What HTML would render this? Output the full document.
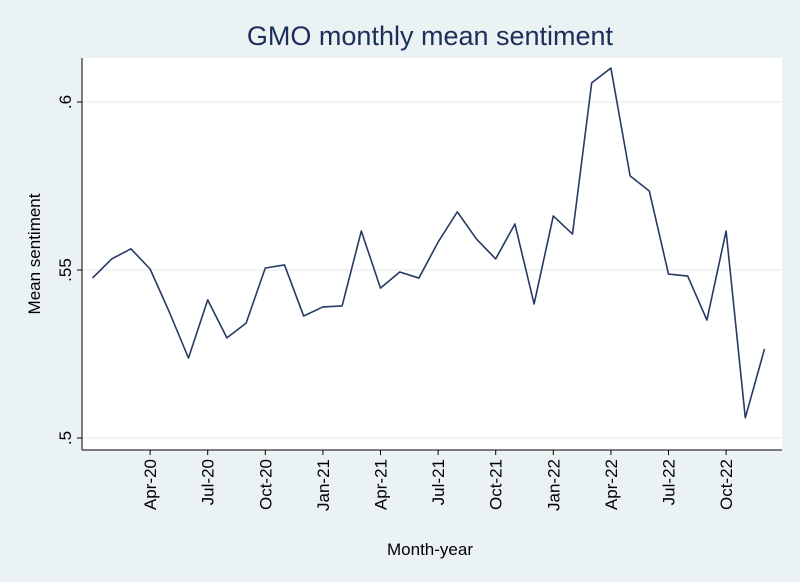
<!DOCTYPE html>
<html><head><meta charset="utf-8"><style>
html,body{margin:0;padding:0;background:#eaf2f3;}
svg{display:block;font-family:"Liberation Sans",Arial,sans-serif;}
</style></head><body>
<svg id="chart" width="800" height="582" viewBox="0 0 800 582">
<rect x="0" y="0" width="800" height="582" fill="#eaf2f3"/>
<rect x="82" y="58" width="700" height="392" fill="#ffffff"/>
<text x="430" y="45" text-anchor="middle" font-size="27" fill="#1c2e5a">GMO monthly mean sentiment</text>
<g id="grid"></g>
<g id="axes"></g>
<polyline id="series" fill="none" stroke="#263a63" stroke-width="1.6" stroke-linejoin="round"/>
<text transform="translate(40,254) rotate(-90)" text-anchor="middle" font-size="17" fill="#000">Mean sentiment</text>
<text x="430" y="555" text-anchor="middle" font-size="17" fill="#000">Month-year</text>
</svg>
<script>
const months = ["Jan-20","Feb-20","Mar-20","Apr-20","May-20","Jun-20","Jul-20","Aug-20","Sep-20","Oct-20","Nov-20","Dec-20","Jan-21","Feb-21","Mar-21","Apr-21","May-21","Jun-21","Jul-21","Aug-21","Sep-21","Oct-21","Nov-21","Dec-21","Jan-22","Feb-22","Mar-22","Apr-22","May-22","Jun-22","Jul-22","Aug-22","Sep-22","Oct-22","Nov-22","Dec-22"];
const sentiment = [0.5476,0.5533,0.5563,0.5503,0.5375,0.5238,0.5411,0.5298,0.5342,0.5506,0.5515,0.5363,0.5390,0.5393,0.5616,0.5446,0.5494,0.5476,0.5583,0.5673,0.5592,0.5533,0.5637,0.5399,0.5661,0.5607,0.6057,0.6101,0.5780,0.5735,0.5488,0.5482,0.5351,0.5616,0.5060,0.5265];
const yTicks = [0.5,0.55,0.6];
const yTickLabels = [".5",".55",".6"];
const xTickIdx = [3,6,9,12,15,18,21,24,27,30,33];
const NS="http://www.w3.org/2000/svg";
function xs(i){return 92.5 + i*(764.5-92.5)/35;}
function ys(v){return 438 - (v-0.5)*(438-102)/0.1;}
const grid=document.getElementById('grid'), axes=document.getElementById('axes');
function mk(tag,attrs,parent){const e=document.createElementNS(NS,tag);for(const k in attrs)e.setAttribute(k,attrs[k]);parent.appendChild(e);return e;}
yTicks.forEach((v,i)=>{
  const y=ys(v);
  const g=mk('line',{x1:82,x2:782,y1:y,y2:y,stroke:'#e8eef0','stroke-width':1.2},grid);
  
  
  const t=mk('line',{x1:77,x2:82,y1:y,y2:y,stroke:'#000'},axes);
  
  
  const l=mk('text',{transform:`translate(71,${y}) rotate(-90)`,'text-anchor':'middle','font-size':17},axes);
  l.textContent=yTickLabels[i];
  
  
});
xTickIdx.forEach(i=>{
  const x=xs(i);
  const t=mk('line',{x1:x,x2:x,y1:450,y2:455,stroke:'#000'},axes);
  
  
  const l=mk('text',{transform:`translate(${x+6},459) rotate(-90)`,'text-anchor':'end','font-size':17},axes);
  l.textContent=months[i];
  
  
});
const ax1=mk('line',{x1:82,x2:82,y1:58,y2:450,stroke:'#000','stroke-width':1},axes);


const ax2=mk('line',{x1:82,x2:782,y1:450,y2:450,stroke:'#000','stroke-width':1},axes);


document.getElementById('series').setAttribute('points',sentiment.map((v,i)=>xs(i)+','+ys(v)).join(' '));
</script>
</body></html>
